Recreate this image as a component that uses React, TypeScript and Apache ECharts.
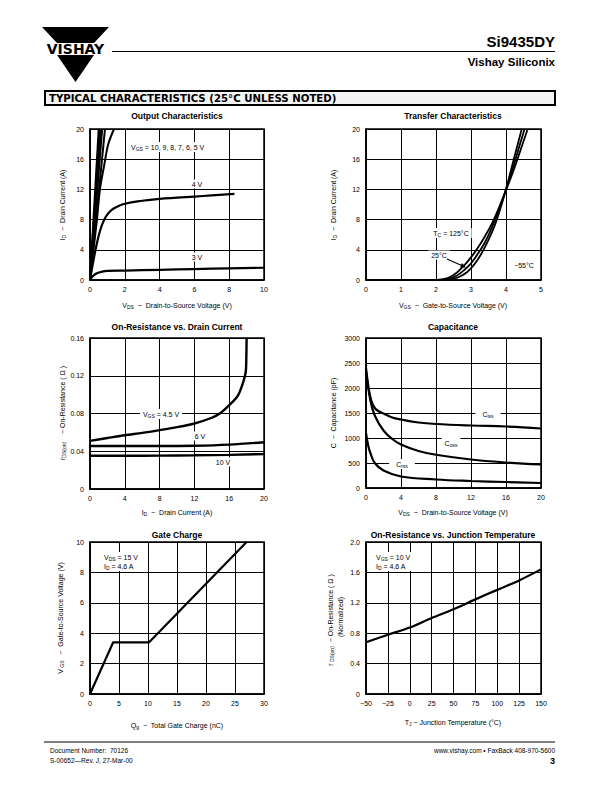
import React, { useEffect, useRef } from 'react';
import * as echarts from 'echarts';

// ---------- Data ----------
// Output characteristics (VDS [V], ID [A])
const out10V = [[0, 0], [0.5, 20]];
const out9V = [[0, 0], [0.56, 20]];
const out8V = [[0, 0], [0.62, 20]];
const out7V = [[0, 0], [0.7, 20]];
const out6V = [[0, 0], [0.2, 4.6], [0.5, 11.5], [0.86, 20]];
const out5V = [[0, 0], [0.2, 4], [0.4, 8], [0.57, 12], [0.8, 15], [1.05, 18], [1.38, 20]];
const out4V = [[0, 0], [0.2, 2.6], [0.4, 4.9], [0.6, 6.7], [0.8, 7.9], [1, 8.7], [1.25, 9.3], [1.5, 9.65], [2, 10.1], [3, 10.5], [4, 10.75], [5, 10.9], [6, 11.05], [7, 11.2], [8.3, 11.4]];
const out3V = [[0, 0], [0.2, 0.6], [0.4, 0.9], [0.7, 1.1], [1, 1.2], [2, 1.25], [4, 1.35], [6, 1.45], [8, 1.55], [10, 1.62]];

// Transfer characteristics (VGS [V], ID [A])
const tr125 = [[0, 0], [2, 0], [2.2, 0.1], [2.4, 0.4], [2.6, 1.0], [2.8, 1.9], [3, 3.0], [3.2, 4.3], [3.4, 5.8], [3.6, 7.5], [3.8, 9.6], [4, 11.9], [4.2, 14.3], [4.4, 17], [4.62, 20]];
const tr25 = [[0, 0], [2.2, 0], [2.4, 0.2], [2.6, 0.6], [2.8, 1.3], [3, 2.2], [3.2, 3.5], [3.4, 5], [3.6, 7], [3.8, 9.3], [4, 12], [4.2, 14.9], [4.4, 18], [4.53, 20]];
const trM55 = [[0, 0], [2.3, 0], [2.5, 0.15], [2.7, 0.5], [2.9, 1.1], [3.1, 2.1], [3.3, 3.5], [3.5, 5.3], [3.7, 7.5], [3.9, 10.4], [4, 12], [4.2, 15.6], [4.45, 20]];

// On-resistance vs drain current (ID [A], rDS(on) [ohm])
const ron45 = [[0, 0.051], [2, 0.054], [4, 0.057], [6, 0.0595], [8, 0.0624], [10, 0.0655], [12, 0.0694], [14, 0.0755], [15, 0.0805], [16, 0.0888], [17, 0.099], [17.6, 0.113], [17.9, 0.124], [17.97, 0.14], [18, 0.16]];
const ron6 = [[0, 0.0455], [4, 0.0455], [8, 0.0455], [12, 0.0458], [16, 0.047], [20, 0.0495]];
const ron10 = [[0, 0.0352], [4, 0.0352], [8, 0.0354], [12, 0.0357], [16, 0.0362], [20, 0.037]];

// Capacitance (VDS [V], C [pF])
const cIss = [[0, 2400], [0.3, 2000], [0.6, 1750], [1, 1600], [1.5, 1530], [2, 1490], [3, 1410], [4, 1370], [6, 1310], [8, 1280], [12, 1250], [16, 1230], [20, 1190]];
const cOss = [[0, 2350], [0.5, 1750], [1, 1450], [2, 1150], [3, 980], [4, 870], [6, 740], [8, 665], [12, 570], [16, 510], [20, 470]];
const cRss = [[0, 1100], [0.25, 850], [0.5, 700], [1, 500], [2, 350], [4, 230], [8, 170], [12, 140], [16, 120], [20, 100]];

// Gate charge (Qg [nC], VGS [V])
const gateCharge = [[0, 0], [4, 3.4], [10.2, 3.4], [27, 10]];

// On-resistance vs junction temperature (TJ [C], normalized rDS(on))
const ronTemp = [[-50, 0.68], [-25, 0.78], [0, 0.875], [25, 1.0], [50, 1.115], [75, 1.245], [100, 1.37], [125, 1.495], [150, 1.64]];

// Text
const titles = ['Output Characteristics', 'Transfer Characteristics', 'On-Resistance vs. Drain Current', 'Capacitance', 'Gate Charge', 'On-Resistance vs. Junction Temperature'];

const FF = '"Liberation Sans", Arial, Helvetica, sans-serif';
const FN = '"Liberation Sans Narrow", "Liberation Sans", Arial, sans-serif';

const minus = (v: number) => (v < 0 ? '\u2212' + Math.abs(v) : String(v));

const rich = {
  n: { fontSize: 7, fontFamily: FF, fill: '#000' },
  s: { fontSize: 5, fontFamily: FF, fill: '#000', padding: [3, 0, 0, 0] },
};

function txt(x: number, y: number, text: string, opt: any = {}) {
  return {
    type: 'text',
    x,
    y,
    z: 100,
    rotation: opt.rotation || 0,
    style: {
      text,
      rich,
      fill: '#000',
      fontSize: opt.fontSize || 7,
      fontFamily: opt.fontFamily || FF,
      fontWeight: opt.fontWeight || 'normal',
      align: opt.align || 'center',
      verticalAlign: 'middle',
      backgroundColor: opt.bg || undefined,
      padding: opt.bg ? (opt.pad || [1, 3]) : undefined,
    },
  };
}

function xAx(gi: number, min: number, max: number, interval: number, fmt?: (v: number) => string) {
  return {
    type: 'value', gridIndex: gi, min, max, interval,
    axisLine: { show: true, onZero: false, lineStyle: { color: '#000', width: 1.5 } },
    axisTick: { show: false },
    splitLine: { show: true, lineStyle: { color: '#000', width: 1 } },
    axisLabel: { color: '#000', fontSize: 7, fontFamily: FF, margin: 6, formatter: fmt || ((v: number) => String(v)) },
  };
}
function yAx(gi: number, min: number, max: number, interval: number, fmt?: (v: number) => string) {
  return {
    type: 'value', gridIndex: gi, min, max, interval,
    axisLine: { show: true, onZero: false, lineStyle: { color: '#000', width: 1.5 } },
    axisTick: { show: false },
    splitLine: { show: true, lineStyle: { color: '#000', width: 1 } },
    axisLabel: { color: '#000', fontSize: 7, fontFamily: FF, margin: 6, formatter: fmt || ((v: number) => String(v)) },
  };
}

function line(gi: number, data: number[][], width = 2.2, smooth: number | boolean = 0.3) {
  return {
    type: 'line', xAxisIndex: gi, yAxisIndex: gi, data,
    showSymbol: false, smooth, silent: true,
    lineStyle: { color: '#000', width },
    clip: true,
  };
}

export default function App() {
  const ref = useRef<HTMLDivElement>(null);
  useEffect(() => {
    if (!ref.current) return;
    const chart = echarts.init(ref.current, undefined, { renderer: 'svg' });
    const gridBase = { show: true, borderColor: '#000', borderWidth: 1.5, containLabel: false };
    const grids = [
      { ...gridBase, left: 90, top: 129, width: 174, height: 151 },
      { ...gridBase, left: 366, top: 129, width: 175, height: 151 },
      { ...gridBase, left: 90, top: 338, width: 174, height: 151 },
      { ...gridBase, left: 366, top: 338, width: 175, height: 150 },
      { ...gridBase, left: 90, top: 542, width: 174, height: 152 },
      { ...gridBase, left: 366, top: 542, width: 175, height: 152 },
    ];
    const titleCenters = [[177, 116], [453, 116], [177, 327], [453, 327], [177, 535], [453, 535]];

    const graphics: any[] = [];
    // Header logo
    graphics.push({ type: 'polygon', z: 100, shape: { points: [[42, 27], [109, 27], [94, 43], [57, 43]] }, style: { fill: '#000' } });
    graphics.push({ type: 'polygon', z: 100, shape: { points: [[57, 55], [94, 55], [75.5, 82]] }, style: { fill: '#000' } });
    graphics.push(txt(75.5, 49, 'VISHAY', { fontSize: 14, fontWeight: 'bold', fontFamily: '"DejaVu Sans", sans-serif' }));
    graphics.push({ type: 'line', z: 100, shape: { x1: 112, y1: 51.5, x2: 555, y2: 51.5 }, style: { stroke: '#000', lineWidth: 1 } });
    graphics.push(txt(555, 41, 'Si9435DY', { fontSize: 15, fontWeight: 'bold', align: 'right' }));
    graphics.push(txt(555, 62, 'Vishay Siliconix', { fontSize: 11.5, fontWeight: 'bold', align: 'right' }));
    // Section box
    graphics.push({ type: 'rect', z: 100, shape: { x: 45, y: 91, width: 510, height: 14 }, style: { fill: '#f4f4f4', stroke: '#000', lineWidth: 2 } });
    graphics.push(txt(49, 98.5, 'TYPICAL CHARACTERISTICS (25\u00B0C UNLESS NOTED)', { fontSize: 10.2, fontWeight: 'bold', align: 'left', fontFamily: '"DejaVu Sans", sans-serif' }));
    // Footer
    graphics.push({ type: 'line', z: 100, shape: { x1: 44, y1: 742, x2: 555, y2: 742 }, style: { stroke: '#000', lineWidth: 1.2 } });
    graphics.push(txt(50, 750, 'Document Number:  70126', { fontSize: 6.5, align: 'left' }));
    graphics.push(txt(50, 760, 'S-00652\u2014Rev. J, 27-Mar-00', { fontSize: 6.5, align: 'left' }));
    graphics.push(txt(555, 750, 'www.vishay.com \u2022 FaxBack 408-970-5600', { fontSize: 6.5, align: 'right' }));
    graphics.push(txt(555, 760.5, '3', { fontSize: 9, fontWeight: 'bold', align: 'right' }));

    // Titles
    titles.forEach((t, i) => {
      graphics.push(txt(titleCenters[i][0], titleCenters[i][1], t, { fontSize: 8.5, fontWeight: 'bold', fontFamily: FN }));
    });

    // Axis names
    const rot = Math.PI / 2;
    graphics.push(txt(177, 305, '{n|V}{s|DS}{n|  \u2212  Drain-to-Source Voltage (V)}'));
    graphics.push(txt(62, 205, '{n|I}{s|D}{n|  \u2212  Drain Current (A)}', { rotation: rot }));
    graphics.push(txt(453, 305, '{n|V}{s|GS}{n|  \u2212  Gate-to-Source Voltage (V)}'));
    graphics.push(txt(333, 205, '{n|I}{s|D}{n|  \u2212  Drain Current (A)}', { rotation: rot }));
    graphics.push(txt(177, 512, '{n|I}{s|D}{n|  \u2212  Drain Current (A)}'));
    graphics.push(txt(62, 413, '{n|r}{s|DS(on)}{n|    \u2212 On-Resistance ( \u03A9 )}', { rotation: rot }));
    graphics.push(txt(453, 512, '{n|V}{s|DS}{n|  \u2212  Drain-to-Source Voltage (V)}'));
    graphics.push(txt(333, 413, '{n|C  \u2212  Capacitance (pF)}', { rotation: rot }));
    graphics.push(txt(177, 725, '{n|Q}{s|g}{n|  \u2212  Total Gate Charge (nC)}'));
    graphics.push(txt(60, 618, '{n|V}{s| GS}{n|   \u2212  Gate-to-Source Voltage (V)}', { rotation: rot }));
    graphics.push(txt(453, 722, '{n|T}{s|J}{n| \u2212 Junction Temperature (\u00B0C)}'));
    graphics.push(txt(330, 620, '{n|r}{s| DS(on)}{n|  \u2212 On-Resistance ( \u03A9 )}', { rotation: rot }));
    graphics.push(txt(340, 617, '{n|(Normalized)}', { rotation: rot }));

    // In-plot labels
    const W = '#fff';
    graphics.push(txt(128, 147, '{n|V}{s|GS}{n| = 10, 9, 8, 7, 6, 5 V}', { align: 'left', bg: W }));
    graphics.push(txt(197, 184, '4 V', { bg: W }));
    graphics.push(txt(197, 257, '3 V', { bg: W }));
    graphics.push(txt(451, 233, '{n|T}{s|C}{n| = 125\u00B0C}', { bg: W }));
    graphics.push(txt(439, 255, '25\u00B0C', { bg: W }));
    graphics.push({ type: 'line', z: 101, shape: { x1: 447, y1: 259, x2: 464, y2: 266.5 }, style: { stroke: '#000', lineWidth: 1.2 } });
    graphics.push({ type: 'polygon', z: 101, shape: { points: [[466, 267.5], [460, 267.5], [462, 263]] }, style: { fill: '#000' } });
    graphics.push(txt(524, 265, '\u221255\u00B0C', { bg: W }));
    graphics.push(txt(161, 414, '{n|V}{s|GS}{n| = 4.5 V}', { bg: W }));
    graphics.push(txt(200, 436, '6 V', { bg: W }));
    graphics.push(txt(223, 462, '10 V', { bg: W }));
    graphics.push(txt(488, 414, '{n|C}{s|iss}', { bg: W, pad: [1, 7] }));
    graphics.push(txt(451, 443, '{n|C}{s|oss}', { bg: W, pad: [1, 3] }));
    graphics.push(txt(402, 464, '{n|C}{s|rss}', { bg: W, pad: [1, 7] }));
    graphics.push({ type: 'rect', z: 99, shape: { x: 100, y: 552, width: 40, height: 19 }, style: { fill: W } });
    graphics.push(txt(104, 557.5, '{n|V}{s|DS}{n| = 15 V}', { align: 'left' }));
    graphics.push(txt(104, 566.5, '{n|I}{s|D}{n| = 4.6 A}', { align: 'left' }));
    graphics.push({ type: 'rect', z: 99, shape: { x: 372, y: 552, width: 41, height: 19 }, style: { fill: W } });
    graphics.push(txt(376, 557.5, '{n|V}{s|GS}{n| = 10 V}', { align: 'left' }));
    graphics.push(txt(376, 566.5, '{n|I}{s|D}{n| = 4.6 A}', { align: 'left' }));

    const f2 = (v: number) => (v === 0 ? '0' : v.toFixed(2));
    const f1 = (v: number) => (v === 0 ? '0' : v.toFixed(1));

    chart.setOption({
      animation: false,
      grid: grids,
      xAxis: [
        xAx(0, 0, 10, 2),
        xAx(1, 0, 5, 1),
        xAx(2, 0, 20, 4),
        xAx(3, 0, 20, 4),
        xAx(4, 0, 30, 5),
        xAx(5, -50, 150, 25, minus),
      ],
      yAxis: [
        yAx(0, 0, 20, 4),
        yAx(1, 0, 20, 4),
        yAx(2, 0, 0.16, 0.04, f2),
        yAx(3, 0, 3000, 500),
        yAx(4, 0, 10, 2),
        yAx(5, 0, 2, 0.4, f1),
      ],
      series: [
        line(0, out10V, 2, false),
        line(0, out9V, 2, false),
        line(0, out8V, 2, false),
        line(0, out7V, 2, false),
        line(0, out6V, 2, 0.2),
        line(0, out5V, 2, 0.3),
        line(0, out4V, 2.2, 0.4),
        line(0, out3V, 2.2, 0.4),
        line(1, tr125, 1.8, 0.4),
        line(1, tr25, 1.8, 0.4),
        line(1, trM55, 1.8, 0.4),
        line(2, ron45, 2.4, 0.3),
        line(2, ron6, 2.4, 0.3),
        line(2, ron10, 2.4, 0.3),
        line(3, cIss, 2.2, 0.4),
        line(3, cOss, 2.2, 0.4),
        line(3, cRss, 2.2, 0.4),
        line(4, gateCharge, 2.2, false),
        line(5, ronTemp, 2.2, 0.3),
      ],
      graphic: { elements: graphics },
    });
    return () => chart.dispose();
  }, []);
  return <div ref={ref} style={{ position: 'absolute', left: 0, top: 0, width: 612, height: 792, background: '#fff' }} />;
}
